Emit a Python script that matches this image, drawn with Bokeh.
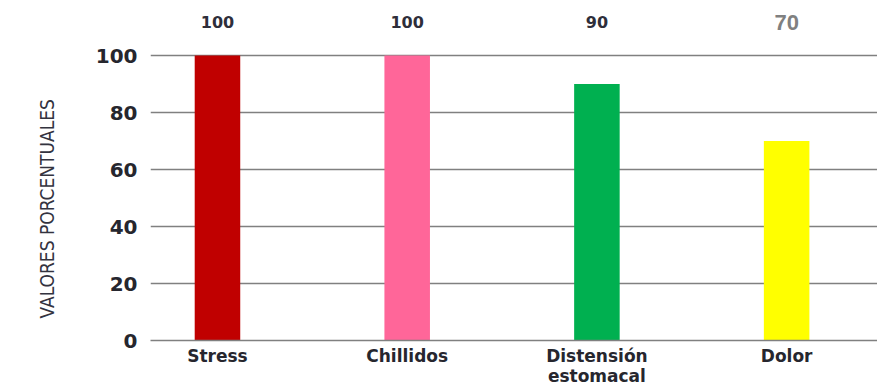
from bokeh.embed import file_html
from bokeh.models import ColumnDataSource, FixedTicker, Range1d, Title
from bokeh.plotting import figure
from bokeh.resources import INLINE

# Síntomas y porcentaje de pacientes que los presentan
categories = ["Stress", "Chillidos", "Distensión\nestomacal", "Dolor"]
values = [100, 100, 90, 70]
y_ticks = [0, 20, 40, 60, 80, 100]

# Estilo de cada barra y de su etiqueta
bar_colors = ["#C00000", "#FF6699", "#00B050", "#FFFF00"]
label_colors = ["#2e2e3a", "#2e2e3a", "#2e2e3a", "#808080"]
label_fonts = ["DejaVu Sans", "DejaVu Sans", "DejaVu Sans", "Liberation Sans"]
label_sizes = ["16px", "16px", "16px", "22px"]

idx = list(range(len(categories)))

source = ColumnDataSource(data=dict(
    x=idx,
    top=values,
    label=[str(v) for v in values],
    color=bar_colors,
    label_color=label_colors,
    label_font=label_fonts,
    label_size=label_sizes,
    label_y=[111.6] * len(values),
))

p = figure(
    frame_width=727, frame_height=340,
    x_range=Range1d(-0.353, 3.479), y_range=Range1d(0, 119.3),
    output_backend="svg", toolbar_location=None,
    min_border_left=150, min_border_right=0,
    min_border_top=0, min_border_bottom=45,
)
p.outline_line_color = None
p.background_fill_color = "white"
p.border_fill_color = "white"

p.vbar(x="x", top="top", bottom=0, width=0.24, fill_color="color",
       line_color=None, source=source)

p.text(x="x", y="label_y", text="label", text_color="label_color",
       text_font="label_font", text_font_size="label_size",
       text_font_style="bold", text_align="center",
       text_baseline="middle", source=source)

# Eje X: nombres de los síntomas
p.xaxis.ticker = FixedTicker(ticks=idx)
p.xaxis.major_label_overrides = {i: c for i, c in zip(idx, categories)}
p.xaxis.major_tick_in = 0
p.xaxis.major_tick_out = 0
p.xaxis.minor_tick_line_color = None
p.xaxis.axis_line_color = "#808080"
p.xaxis.axis_line_width = 1.6
p.xaxis.major_label_standoff = 5
p.xaxis.major_label_text_font = "DejaVu Sans"
p.xaxis.major_label_text_font_style = "bold"
p.xaxis.major_label_text_font_size = "17px"
p.xaxis.major_label_text_color = "#26262e"
p.xaxis.major_label_text_line_height = 1.0
p.xgrid.grid_line_color = None

# Eje Y: valores porcentuales
p.yaxis.ticker = FixedTicker(ticks=y_ticks)
p.yaxis.axis_line_color = None
p.yaxis.major_tick_in = 0
p.yaxis.major_tick_out = 0
p.yaxis.minor_tick_line_color = None
p.yaxis.major_label_standoff = 13
p.yaxis.major_label_text_font = "DejaVu Sans"
p.yaxis.major_label_text_font_style = "bold"
p.yaxis.major_label_text_font_size = "20px"
p.yaxis.major_label_text_color = "#26262e"
p.ygrid.ticker = FixedTicker(ticks=y_ticks)
p.ygrid.grid_line_color = "#808080"
p.ygrid.grid_line_width = 1.6

# Título del eje Y, en el panel izquierdo
y_title = Title(
    text="VALORES PORCENTUALES", align="left", offset=22,
    vertical_align="top", standoff=66,
    text_font="DejaVu Sans Condensed", text_font_size="19px",
    text_font_style="normal", text_color="#33333f",
)
p.add_layout(y_title, "left")

open("out.html", "w").write(file_html(p, INLINE))
